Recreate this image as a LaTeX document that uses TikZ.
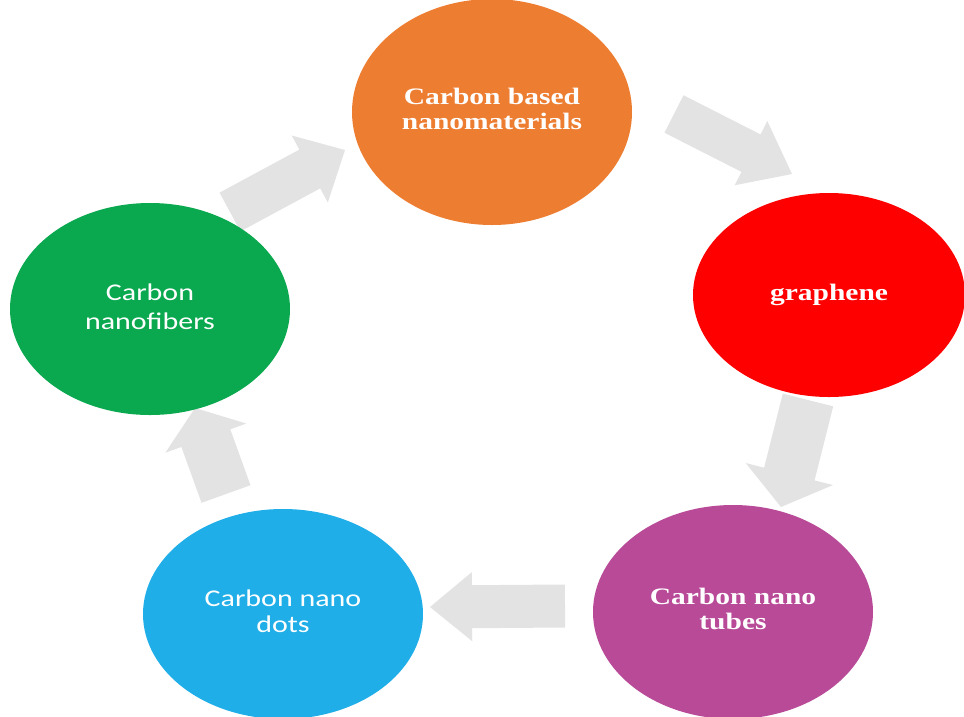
\documentclass[tikz,border=0pt]{standalone}
\usepackage{fontspec}
\usepackage{graphicx}
\usetikzlibrary{shapes.geometric,calc}
\newfontfamily\serifface{Liberation Serif}
\newfontfamily\calibface{Carlito}
\definecolor{corange}{HTML}{ED7D31}
\definecolor{cred}{HTML}{FF0000}
\definecolor{cpurple}{HTML}{B84A98}
\definecolor{cblue}{HTML}{1FAEE8}
\definecolor{cgreen}{HTML}{0AA84F}
\definecolor{arrowgray}{HTML}{E3E3E3}
\newcommand{\sqlbl}[1]{\scalebox{1.25}[1]{\begin{tabular}{@{}c@{}}#1\end{tabular}}}
% #1 tail, #2 tip, #3 shaft half width, #4 head half width, #5 head length
\newcommand{\blkarrow}[5]{%
  \path ($(#2)!#5!(#1)$) coordinate (bh);
  \fill[arrowgray] ($(#1)!#3!90:(#2)$) -- ($(bh)!#3!90:(#2)$) -- ($(bh)!#4!90:(#2)$) -- (#2)
    -- ($(bh)!#4!-90:(#2)$) -- ($(bh)!#3!-90:(#2)$) -- ($(#1)!#3!-90:(#2)$) -- cycle;
}
\tikzset{
  blob/.style={ellipse, draw=none, inner sep=0pt, text=white},
  serifbig/.style={font=\serifface\bfseries\fontsize{23.6}{25}\selectfont},
  sansbig/.style={font=\calibface\fontsize{24}{#1}\selectfont},
}
\begin{document}
\begin{tikzpicture}[x=1pt,y=-1pt]
\useasboundingbox (0,0) rectangle (964,716);
\fill[white] (0,0) rectangle (964,716);
% arrow end points
\coordinate (a1s) at (674,114);
\coordinate (a1t) at (792,174);
\coordinate (a2s) at (808,400);
\coordinate (a2t) at (781,507);
\coordinate (a3s) at (565,606);
\coordinate (a3t) at (430,607);
\coordinate (a4s) at (226,494);
\coordinate (a4t) at (195,408);
\coordinate (a5s) at (230,212);
\coordinate (a5t) at (345,150);
\blkarrow{a1s}{a1t}{21pt}{36pt}{46pt}
\blkarrow{a2s}{a2t}{26pt}{45pt}{34pt}
\blkarrow{a3s}{a3t}{21.5pt}{34.5pt}{42pt}
\blkarrow{a4s}{a4t}{26pt}{43pt}{32pt}
\blkarrow{a5s}{a5t}{22pt}{38pt}{40pt}
% ellipses
\node[blob, fill=corange, minimum width=280pt, minimum height=226pt, serifbig] (cbn) at (492,112)
  {\sqlbl{Carbon based\\nanomaterials}};
\node[blob, fill=cred, minimum width=272pt, minimum height=204pt, serifbig] (gra) at (829,295)
  {\sqlbl{graphene}};
\node[blob, fill=cpurple, minimum width=280pt, minimum height=214pt, serifbig] (cnt) at (733,612)
  {\sqlbl{Carbon nano\\tubes}};
\node[blob, fill=cblue, minimum width=280pt, minimum height=210pt, sansbig=26] (cnd) at (283,614)
  {\sqlbl{Carbon nano\\dots}};
\node[blob, fill=cgreen, minimum width=280pt, minimum height=212pt, sansbig=29] (cnf) at (150,309)
  {\sqlbl{Carbon\\nanofibers}};
\end{tikzpicture}
\end{document}
